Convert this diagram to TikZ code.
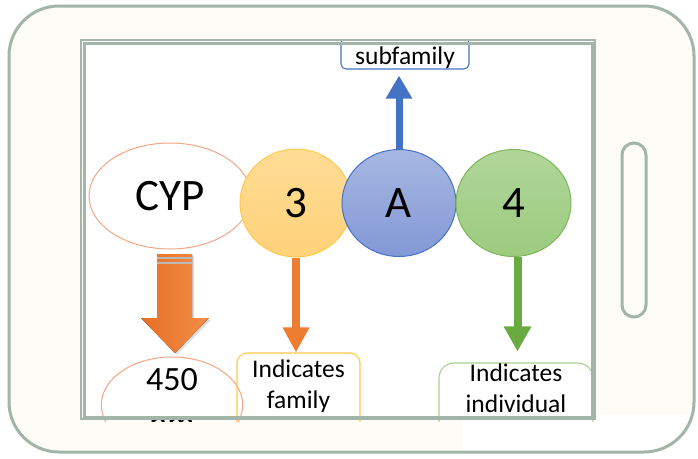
\documentclass[tikz,border=0pt]{standalone}
\usepackage{fontspec}
\setmainfont{Carlito}
\usetikzlibrary{shapes.geometric,arrows.meta,shadows,calc}
\definecolor{framec}{HTML}{A3B5A9}
\definecolor{cream}{HTML}{FDFCF7}
\definecolor{orangeA}{HTML}{ED7D31}
\definecolor{salmon}{HTML}{F4A582}
\definecolor{gold}{HTML}{FFC94A}
\definecolor{yellowtop}{HTML}{FFDC95}
\definecolor{yellowbot}{HTML}{FFD27A}
\definecolor{bluestroke}{HTML}{4472C4}
\definecolor{bluetop}{HTML}{A6B7E1}
\definecolor{bluebot}{HTML}{8399D6}
\definecolor{greenstroke}{HTML}{7DB65A}
\definecolor{greentop}{HTML}{B0D699}
\definecolor{greenbot}{HTML}{9CCB7F}
\definecolor{greenarrow}{HTML}{6AAB41}
\definecolor{greenbox}{HTML}{A9D18E}
\definecolor{blockdark}{HTML}{E86F24}
\definecolor{blocklight}{HTML}{F28D46}
\begin{document}
\begin{tikzpicture}[x=1pt,y=-1pt,
  ell/.style={ellipse, inner sep=0pt, line width=1pt},
  bignum/.style={font=\fontsize{45}{50}\selectfont},
  conn/.style={line width=8pt},
  boxlbl/.style={font=\fontsize{25.5}{31}\selectfont, line width=1.1pt, inner ysep=0pt, inner xsep=0pt}
]
\useasboundingbox (0,0) rectangle (698,458);
\fill[white] (0,0) rectangle (698,458);
% device body
\fill[cream, rounded corners=50pt] (9,6) rectangle (694,452);
\begin{scope}
  \clip[rounded corners=50pt] (9,6) rectangle (694,452);
  \fill[white] (463,419) -- (597,419) -- (597,415) -- (698,415) -- (698,458) -- (463,458) -- cycle;
\end{scope}
\draw[framec, line width=3pt, rounded corners=50pt] (9,6) rectangle (694,452);
\draw[framec, line width=3pt, rounded corners=12pt] (622,143) rectangle (646,317);
% screen
\fill[white] (82,41) rectangle (594,418);
\begin{scope}
  \clip (82,41) rectangle (596,421);
  \node[ell, draw=salmon, fill=white, minimum width=162pt, minimum height=106pt, bignum] (cyp) at (170,196) {CYP};
  \node[ell, draw=gold, top color=yellowtop, bottom color=yellowbot, minimum width=112pt, minimum height=108pt, bignum] (n3) at (296,203) {3};
  \node[ell, draw=bluestroke, top color=bluetop, bottom color=bluebot, minimum width=114pt, minimum height=107pt, bignum] (nA) at (399,203) {A};
  \node[ell, draw=greenstroke, top color=greentop, bottom color=greenbot, minimum width=115pt, minimum height=107pt, bignum] (n4) at (513.5,203) {4};

  \node[ell, draw=salmon, fill=white, minimum width=132pt, minimum height=96pt, text height=0pt, text depth=30pt, font=\fontsize{34}{38}\selectfont] (n450) at (172,405) {\parbox[t]{100pt}{\centering 450\\[6pt]nm}};

  \node[boxlbl, draw=bluestroke, rounded corners=5pt, minimum width=128pt, text height=26pt, text depth=5pt, anchor=base] (sub) at (405,64) {subfamily};
  \node[boxlbl, draw=gold, rounded corners=10pt, text width=123pt, text height=24pt, text depth=60pt, anchor=base] (fam) at (298.5,377) {\parbox[t]{123pt}{\centering Indicates\\family}};
  \node[boxlbl, draw=greenbox, rounded corners=15pt, text width=154pt, text height=18pt, text depth=60pt, anchor=base] (ind) at (516,381) {\parbox[t]{154pt}{\centering Indicates\\individual}};

  % connectors
  \draw[conn, bluestroke, line width=7pt, -{Triangle[width=25pt,length=23pt]}, shorten >=6pt] (nA.north) -- (nA.north |- sub.south);
  \draw[conn, orangeA, -{Triangle[width=25pt,length=25pt]}] (n3.south) -- (n3.south |- fam.north);
  \draw[conn, greenarrow, -{Triangle[width=26pt,length=25pt]}, shorten >=11pt] ($(n4.south)+(4,0)$) -- ($(n4.south |- ind.north)+(4,0)$);

  % big block arrow CYP -> 450
  \fill[left color=blockdark, right color=blocklight, drop shadow={shadow xshift=2pt, shadow yshift=-2pt, opacity=0.25}]
    (157,254) -- (192,254) -- (192,318) -- (209,318) -- (175,353) -- (141,318) -- (157,318) -- cycle;
  \draw[gray!55, line width=1.3pt] (157,258) -- (192,258);
  \draw[gray!55, line width=1.3pt] (157,263) -- (192,263);
\end{scope}
\draw[framec, line width=1.2pt] (81,40) rectangle (595,419);
\draw[framec, line width=3pt] (84,43) rectangle (592,417);
\end{tikzpicture}
\end{document}
